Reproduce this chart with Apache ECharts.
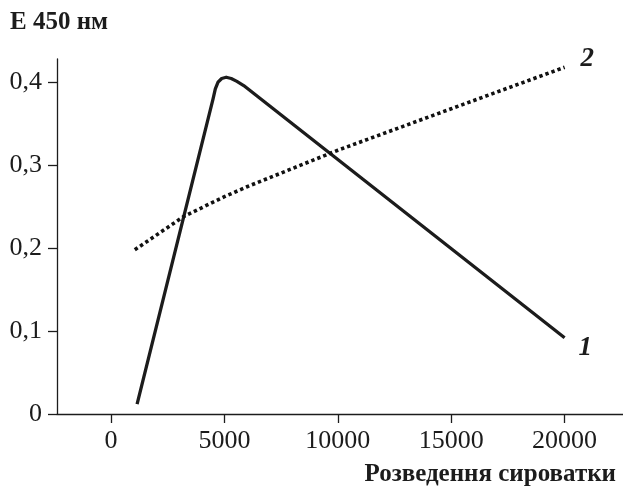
<!DOCTYPE html>
<html>
<head>
<meta charset="utf-8">
<script src="https://cdn.jsdelivr.net/npm/echarts@6/dist/echarts.min.js"></script>
<style>
html,body{margin:0;padding:0;background:#fff;}
#chart{width:623px;height:490px;}
</style>
</head>
<body>
<div id="chart"></div>
<script>
var xTicks = [0, 5000, 10000, 15000, 20000];
var yTicks = [0, 0.1, 0.2, 0.3, 0.4];
var curve1 = [[1150, 0.012], [4500, 0.380], [4600, 0.392], [4720, 0.400], [4880, 0.4045], [5080, 0.406], [5300, 0.4045], [5550, 0.401], [5850, 0.396], [20000, 0.092]];
var curve2 = [[1050, 0.198], [3200, 0.238], [5000, 0.262], [6000, 0.274], [10000, 0.318], [15000, 0.368], [20000, 0.418]];
var yTitle = 'Е 450 нм';
var xTitle = 'Розведення сироватки';
var seriesNames = ['1', '2'];

var FONT = "'Liberation Serif', 'Times New Roman', serif";
var INK = '#1c1c1c';

var chart = echarts.init(document.getElementById('chart'), null, {renderer: 'canvas'});
chart.setOption({
  animation: false,
  backgroundColor: '#fff',
  title: [
    {text: yTitle, left: 5, top: 5, textStyle: {fontFamily: FONT, fontSize: 25, fontWeight: 'bold', color: INK}},
    {text: xTitle, right: 2, top: 457, textStyle: {fontFamily: FONT, fontSize: 25, fontWeight: 'bold', color: INK}}
  ],
  grid: {left: 57, right: 0, top: 59, bottom: 76, containLabel: false},
  xAxis: {
    type: 'value', min: -2381, max: 22575,
    splitLine: {show: false},
    axisLine: {show: true, onZero: false, lineStyle: {color: INK, width: 1.3}},
    axisTick: {show: true, inside: false, length: 9, customValues: xTicks, lineStyle: {color: INK, width: 1.3}},
    axisLabel: {customValues: xTicks, margin: 14, fontFamily: FONT, fontSize: 26, color: INK,
      formatter: function (v) { return String(Math.round(v)); }}
  },
  yAxis: {
    type: 'value', min: 0, max: 0.428,
    splitLine: {show: false},
    axisLine: {show: true, onZero: false, lineStyle: {color: INK, width: 1.3}},
    axisTick: {show: true, length: 9, customValues: yTicks, lineStyle: {color: INK, width: 1.3}},
    axisLabel: {customValues: yTicks, margin: 15, fontFamily: FONT, fontSize: 26, color: INK,
      formatter: function (v) { return v === 0 ? '0' : v.toFixed(1).replace('.', ','); }}
  },
  series: [
    {
      name: seriesNames[0], type: 'line', data: curve1, showSymbol: false, symbol: 'none',
      lineStyle: {color: INK, width: 3.3, join: 'round', cap: 'butt'},
      endLabel: {show: true, formatter: seriesNames[0], fontFamily: FONT, fontSize: 27, fontStyle: 'italic', fontWeight: 'bold', color: INK, distance: 14, offset: [0, 10]}
    },
    {
      name: seriesNames[1], type: 'line', data: curve2, showSymbol: false, symbol: 'none',
      lineStyle: {color: '#111', width: 3.6, type: [3.4, 3], cap: 'butt'},
      endLabel: {show: true, formatter: seriesNames[1], fontFamily: FONT, fontSize: 27, fontStyle: 'italic', fontWeight: 'bold', color: INK, distance: 16, offset: [0, -8]}
    }
  ]
});
</script>
</body>
</html>
